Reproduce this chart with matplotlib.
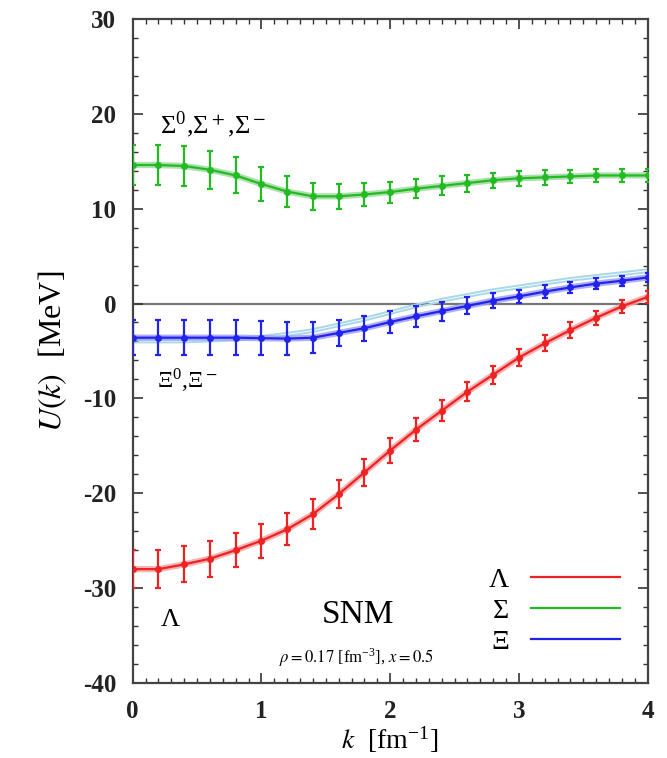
import numpy as np
import matplotlib
matplotlib.use("Agg")
import matplotlib.pyplot as plt
from matplotlib.ticker import MultipleLocator

plt.rcParams['font.family'] = ['Liberation Serif', 'DejaVu Serif']
plt.rcParams['mathtext.fontset'] = 'stix'
plt.rcParams['axes.unicode_minus'] = False

k = [0.0, 0.2, 0.4, 0.6, 0.8, 1.0, 1.2, 1.4, 1.6, 1.8, 2.0,
     2.2, 2.4, 2.6, 2.8, 3.0, 3.2, 3.4, 3.6, 3.8, 4.0]

u_lambda = [-28.0, -28.0, -27.5, -26.9, -26.0, -25.0, -23.8, -22.2, -20.1, -17.8, -15.5,
            -13.3, -11.3, -9.3, -7.5, -5.7, -4.2, -2.8, -1.5, -0.3, 0.7]
err_lambda = [2.0, 2.0, 1.9, 1.9, 1.8, 1.8, 1.7, 1.6, 1.5, 1.4, 1.3,
              1.2, 1.1, 1.0, 0.95, 0.9, 0.85, 0.8, 0.75, 0.7, 0.65]

u_sigma = [14.6, 14.6, 14.5, 14.1, 13.5, 12.6, 11.8, 11.3, 11.3, 11.5, 11.75,
           12.1, 12.4, 12.7, 13.0, 13.2, 13.3, 13.4, 13.5, 13.5, 13.5]
err_sigma = [2.1, 2.1, 2.1, 2.0, 1.9, 1.8, 1.6, 1.4, 1.3, 1.2, 1.1,
             1.0, 1.0, 0.9, 0.8, 0.8, 0.8, 0.7, 0.7, 0.7, 0.7]

u_xi = [-3.6, -3.6, -3.6, -3.6, -3.6, -3.65, -3.7, -3.6, -3.1, -2.6, -1.95,
        -1.35, -0.8, -0.25, 0.3, 0.75, 1.25, 1.7, 2.1, 2.4, 2.75]
err_xi = [1.85, 1.85, 1.85, 1.85, 1.85, 1.8, 1.75, 1.6, 1.4, 1.3, 1.2,
          1.1, 1.0, 0.9, 0.8, 0.7, 0.7, 0.6, 0.6, 0.55, 0.5]
# the two separate Xi0 / Xi- curves (thin light lines)
u_xi0 = [-4.1, -4.1, -4.1, -4.0, -3.9, -3.7, -3.4, -3.0, -2.4, -1.8, -1.1,
         -0.4, 0.2, 0.7, 1.2, 1.6, 2.0, 2.4, 2.7, 3.0, 3.3]
u_xim = [-3.8, -3.8, -3.8, -3.7, -3.6, -3.4, -3.1, -2.7, -2.1, -1.5, -0.8,
         -0.1, 0.5, 1.0, 1.5, 1.9, 2.3, 2.7, 3.0, 3.3, 3.6]

fig = plt.figure(figsize=(6.67, 7.58), dpi=100)
ax = fig.add_axes([0.199, 0.099, 0.772, 0.876])

ax.axhline(0, color='#777777', lw=1.6, zorder=1)

ax.plot(k, u_xi0, color='#a8d8e8', lw=1.4, zorder=2)
ax.plot(k, u_xim, color='#a8d8e8', lw=1.4, zorder=2)

series = [(u_lambda, err_lambda, '#ee2222', '#f4a0a0', 'Λ'),
          (u_sigma, err_sigma, '#22bb22', '#9ad89a', 'Σ'),
          (u_xi, err_xi, '#2222ee', '#9a9af4', 'Ξ')]
for u, e, c, halo, lab in series:
    ax.plot(k, u, color=halo, lw=4.5, alpha=0.8, zorder=3)
    ax.errorbar(k, u, yerr=e, color=c, lw=1.6, marker='o', ms=4,
                capsize=2.5, elinewidth=1.6, capthick=1.6, zorder=4)
    ax.plot([], [], color=c, lw=1.6, label=lab)

ax.set_xlim(0, 4)
ax.set_ylim(-40, 30)
ax.xaxis.set_major_locator(MultipleLocator(1))
ax.xaxis.set_minor_locator(MultipleLocator(0.1))
ax.yaxis.set_major_locator(MultipleLocator(10))
ax.yaxis.set_minor_locator(MultipleLocator(2))
ax.tick_params(which='both', direction='in', top=True, right=True,
               labelsize=18, colors='#333333', labelcolor='#222222')
ax.tick_params(which='major', length=7, width=1.2, pad=12)
ax.tick_params(which='minor', length=3.5, width=1.0)
for lbl in ax.get_xticklabels() + ax.get_yticklabels():
    lbl.set_fontweight('bold')
for s in ax.spines.values():
    s.set_linewidth(1.6)
    s.set_color('#444444')

ax.set_xlabel(r'$k$  [fm$^{\mathregular{-1}}$]', fontsize=20, labelpad=1)
ax.set_ylabel(r'$U(k)$  [MeV]', fontsize=23, labelpad=10)

ax.text(0.21, 18.9, r'Σ$^{\mathregular{0}}$,Σ$^+$,Σ$^-$', fontsize=19, va='center', ha='left')
ax.text(0.19, -8.2, r'Ξ$^{\mathregular{0}}$,Ξ$^-$', fontsize=17, va='center', ha='left')
ax.text(0.29, -33.4, 'Λ', fontsize=19, va='center', ha='center')
ax.text(1.75, -32.8, 'SNM', fontsize=24, va='center', ha='center')
ax.text(1.74, -37.3, r'$\rho=0.17$ [fm$^{\mathregular{-3}}$], $x=0.5$', fontsize=12, va='center', ha='center')

ax.legend(loc='lower right', frameon=False, markerfirst=False, fontsize=20,
          handlelength=3.2, handletextpad=0.8, labelspacing=0.2,
          borderaxespad=0.6)

fig.savefig('out.png', dpi=100)
